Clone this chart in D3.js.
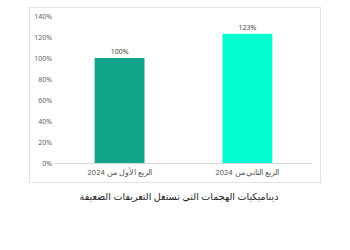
<!DOCTYPE html>
<html>
<head>
<meta charset="utf-8">
<script src="https://cdn.jsdelivr.net/npm/d3@7"></script>
<style>
  body { margin: 0; background: #fff; }
  svg { display: block; font-family: "Noto Sans", "DejaVu Sans", sans-serif; }
</style>
</head>
<body>
<div id="chart"></div>
<script>
// data
const categories = ["الربع الأول من 2024", "الربع الثاني من 2024"];
const values = [100, 123];
const barColors = ["#12a589", "#02fdd3"];
const yTicks = [0, 20, 40, 60, 80, 100, 120, 140];
const title = "ديناميكيات الهجمات التي تستغل التعريفات الضعيفة";

const width = 350;
const height = 250;

const svg = d3.select("#chart")
    .append("svg")
    .attr("width", width)
    .attr("height", height);

// frame around the plot
svg.append("rect")
    .attr("x", 29.5)
    .attr("y", 7.5)
    .attr("width", 291)
    .attr("height", 175)
    .attr("fill", "#fff")
    .attr("stroke", "#e3e3e3");

const x = d3.scaleBand()
    .domain(categories)
    .range([55, 312])
    .paddingInner(0.61)
    .paddingOuter(0.31);

const y = d3.scaleLinear()
    .domain([0, 140])
    .range([163, 16]);

// y axis labels
svg.append("g")
    .attr("transform", "translate(52,0)")
    .call(d3.axisLeft(y).tickValues(yTicks).tickFormat(d => d + "%").tickSize(0).tickPadding(0))
    .call(g => g.select(".domain").remove())
    .call(g => g.selectAll("text")
        .attr("fill", "#666")
        .attr("font-size", 7)
        .attr("font-family", "'Noto Sans', sans-serif"));

// bars
svg.append("g")
    .selectAll("rect")
    .data(values)
    .join("rect")
    .attr("x", (d, i) => x(categories[i]))
    .attr("y", d => y(d))
    .attr("width", x.bandwidth())
    .attr("height", d => y(0) - y(d))
    .attr("fill", (d, i) => barColors[i]);

// baseline
svg.append("line")
    .attr("x1", 55)
    .attr("x2", 312)
    .attr("y1", y(0) + 0.5)
    .attr("y2", y(0) + 0.5)
    .attr("stroke", "#d9d9d9");

// value labels
svg.append("g")
    .selectAll("text")
    .data(values)
    .join("text")
    .attr("x", (d, i) => x(categories[i]) + x.bandwidth() / 2)
    .attr("y", d => y(d) - 4)
    .attr("text-anchor", "middle")
    .attr("font-size", 7)
    .attr("fill", "#444")
    .text(d => d + "%");

// category labels
svg.append("g")
    .attr("transform", `translate(0,${y(0)})`)
    .call(d3.axisBottom(x).tickSize(0).tickPadding(7))
    .call(g => g.select(".domain").remove())
    .call(g => g.selectAll("text")
        .attr("fill", "#555")
        .attr("font-size", 7.5)
        .attr("font-family", "'Noto Sans', sans-serif"));

// title
svg.append("text")
    .attr("x", 179)
    .attr("y", 200)
    .attr("text-anchor", "middle")
    .attr("font-size", 9.6)
    .attr("fill", "#222")
    .text(title);
</script>
</body>
</html>
